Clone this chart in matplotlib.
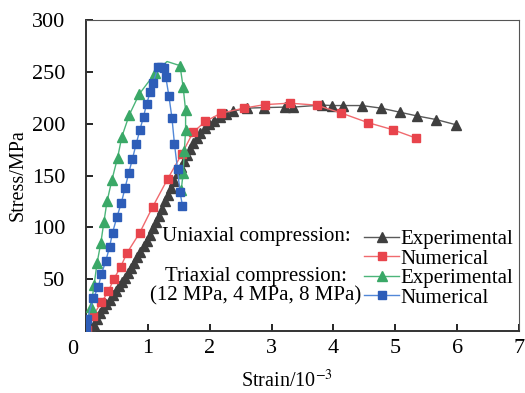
import matplotlib
matplotlib.use('Agg')
import matplotlib.pyplot as plt
from matplotlib.lines import Line2D

plt.rcParams['font.family'] = ['Liberation Serif', 'DejaVu Serif']
plt.rcParams['mathtext.fontset'] = 'stix'

# uniaxial compression - experimental
uni_exp_x = [0.02, 0.08, 0.13, 0.18, 0.23, 0.28, 0.33, 0.38, 0.43, 0.48, 0.53, 0.58, 0.63, 0.68,
             0.73, 0.78, 0.83, 0.88, 0.93, 0.98, 1.03, 1.08, 1.13, 1.18, 1.23, 1.28, 1.33, 1.38,
             1.43, 1.48, 1.53, 1.58, 1.63, 1.68, 1.73, 1.79, 1.85, 1.92, 1.99, 2.07, 2.16, 2.26,
             2.38, 2.60, 2.87, 3.22, 3.35, 3.81, 3.98, 4.16, 4.46, 4.77, 5.08, 5.35, 5.66, 5.98]
uni_exp_y = [1, 3, 6, 12, 17, 22, 26, 30, 35, 39, 43, 47, 51, 56,
             61, 66, 71, 76, 82, 87, 93, 99, 105, 111, 118, 125, 131, 138,
             145, 152, 158, 164, 170, 176, 181, 186, 191, 196, 200, 203, 206, 209,
             212, 215, 215.5, 216, 216, 218, 217.5, 217.5, 217.5, 215, 211, 207.5, 204, 199]

# uniaxial compression - numerical
uni_num_x = [0.01, 0.11, 0.25, 0.36, 0.45, 0.56, 0.66, 0.87, 1.08, 1.32, 1.55, 1.73, 1.93,
             2.18, 2.55, 2.89, 3.29, 3.73, 4.12, 4.56, 4.97, 5.34]
uni_num_y = [1, 14.5, 27.7, 38.1, 50.2, 61.8, 75, 94.9, 120, 146.7, 170.8, 191.6, 202.2,
             210.1, 215, 218.4, 219.8, 217.9, 210.4, 201, 194, 186]

# triaxial compression - experimental
tri_exp_x = [0.0, 0.08, 0.13, 0.18, 0.24, 0.29, 0.34, 0.42, 0.51, 0.58, 0.70, 0.86, 1.12,
             1.31, 1.52, 1.57, 1.61, 1.61, 1.59, 1.57, 1.54]
tri_exp_y = [3, 23.5, 44, 66, 85, 105.5, 125, 146, 167, 187.5, 208.5, 228.5, 249,
             260, 256, 235.5, 213, 194, 174, 152.5, 136]

# triaxial compression - numerical
tri_num_x = [0.0, 0.02, 0.12, 0.20, 0.25, 0.32, 0.38, 0.43, 0.50, 0.57, 0.63, 0.69, 0.75,
             0.81, 0.87, 0.93, 0.98, 1.04, 1.08, 1.17, 1.22, 1.26, 1.29, 1.34, 1.39, 1.43,
             1.48, 1.52, 1.56]
tri_num_y = [3, 11.3, 31.6, 42.8, 55, 67.6, 80.8, 95, 110, 123.3, 137.7, 152, 166,
             180.2, 193.7, 206.8, 219, 231, 239, 255, 254.3, 253.4, 245, 226.8, 205.3, 180.5,
             155.9, 133.7, 120.7]

c_black, c_black_l = '#3f3f3f', '#5a5a5a'
c_red, c_red_l = '#e8444c', '#f06a6e'
c_green, c_green_l = '#3aa867', '#4cb57a'
c_blue, c_blue_l = '#2d5db8', '#5288d8'

fig = plt.figure(figsize=(5.25, 3.93), dpi=100)
ax = fig.add_axes([0.1638, 0.1578, 0.8248, 0.7912])

ax.plot(uni_exp_x, uni_exp_y, color=c_black_l, lw=1.0, marker='^', ms=7.5,
        mfc=c_black, mec=c_black, zorder=3)
ax.plot(uni_num_x, uni_num_y, color=c_red_l, lw=1.0, marker='s', ms=6,
        mfc=c_red, mec=c_red, zorder=4)
ax.plot(tri_exp_x, tri_exp_y, color=c_green_l, lw=1.0, marker='^', ms=7.5,
        mfc=c_green, mec=c_green, zorder=5,
        markevery=[i for i in range(len(tri_exp_x)) if i != 13])
ax.plot(tri_num_x, tri_num_y, color=c_blue_l, lw=1.0, marker='s', ms=6,
        mfc=c_blue, mec=c_blue, zorder=6)

ax.set_xlim(0, 7)
ax.set_ylim(0, 300)
ax.set_xticks(range(0, 8))
ax.set_xticklabels([''] + [str(i) for i in range(1, 8)])
ax.set_yticks(range(0, 301, 50))
ax.set_yticklabels([''] + [str(i) for i in range(50, 301, 50)])
ax.tick_params(axis='both', direction='in', length=5, width=1.2, labelsize=16,
               top=False, right=False)
ax.tick_params(axis='y', pad=15)
ax.tick_params(axis='x', pad=6)
for s in ['left', 'bottom']:
    ax.spines[s].set_linewidth(1.4)
    ax.spines[s].set_color('#333333')
for s in ['top', 'right']:
    ax.spines[s].set_linewidth(0.8)
    ax.spines[s].set_color('#555555')

ax.text(-0.21, -17.5, '0', fontsize=16, ha='center', va='center', clip_on=False)

ax.set_xlabel('Strain/10$^{-3}$', fontsize=14.5)
ax.set_ylabel('Stress/MPa', fontsize=14.5)
ax.xaxis.set_label_coords(0.464, -0.125)
ax.yaxis.set_label_coords(-0.134, 0.5)

ax.text(2.75, 90.7, 'Uniaxial compression:', fontsize=15, ha='center', va='center')
ax.text(2.75, 53, 'Triaxial compression:', fontsize=15, ha='center', va='center')
ax.text(2.75, 33.8, '(12 MPa, 4 MPa, 8 MPa)', fontsize=15, ha='center', va='center')

handles = [
    Line2D([], [], color=c_black_l, lw=1.0, marker='^', ms=7.5, mfc=c_black, mec=c_black),
    Line2D([], [], color=c_red_l, lw=1.0, marker='s', ms=6, mfc=c_red, mec=c_red),
    Line2D([], [], color=c_green_l, lw=1.0, marker='^', ms=7.5, mfc=c_green, mec=c_green),
    Line2D([], [], color=c_blue_l, lw=1.0, marker='s', ms=6, mfc=c_blue, mec=c_blue),
]
labels = ['Experimental', 'Numerical', 'Experimental', 'Numerical']
ax.legend(handles, labels, loc='upper left', bbox_to_anchor=(4.5, 98), bbox_transform=ax.transData,
          frameon=False, fontsize=15, handlelength=1.65, handletextpad=0.1,
          labelspacing=0.0, borderpad=0, borderaxespad=0)

fig.savefig('out.png', dpi=100)
